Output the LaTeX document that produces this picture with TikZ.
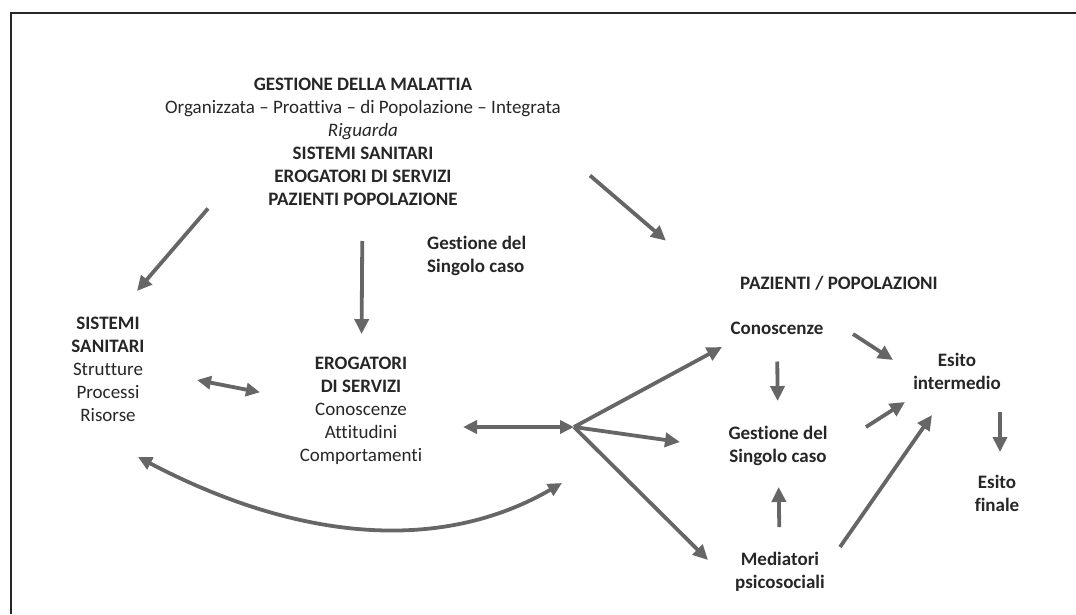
\documentclass[tikz,border=0pt]{standalone}
\usepackage{fontspec}
\setmainfont{Carlito}[Ligatures={TeX,NoCommon}]
\usepackage{xcolor}
\usetikzlibrary{arrows.meta, positioning}
\definecolor{arrgray}{HTML}{666666}
\definecolor{txtgray}{HTML}{262626}

\begin{document}
\begin{tikzpicture}[
    x=1pt, y=-1pt,
    lbl/.style={align=center, inner sep=0pt, text=txtgray, font=\fontsize{19}{23}\selectfont},
    hd/.style={lbl, font=\fontsize{19}{23}\selectfont\bfseries},
    arr/.style={-{Triangle[length=15pt, width=14pt]}, line width=3.8pt, draw=arrgray},
    dbl/.style={{Triangle[length=14pt, width=13pt]}-{Triangle[length=14pt, width=13pt]}, line width=3.8pt, draw=arrgray}
]
    \useasboundingbox (0,0) rectangle (1076,614);
    \draw[line width=2.5pt, draw=txtgray] (11,614) -- (11,13) -- (1076,13);

    \node[lbl] (title) at (363,142) {\textbf{GESTIONE DELLA MALATTIA}\\Organizzata – Proattiva – di Popolazione – Integrata\\\textit{Riguarda}\\\textbf{SISTEMI SANITARI}\\\textbf{EROGATORI DI SERVIZI}\\\textbf{PAZIENTI POPOLAZIONE}};
    \node[hd, align=left, anchor=west] (singolo) at (427,256) {Gestione del\\Singolo caso};
    \node[lbl] (sistemi) at (108,369) {\textbf{SISTEMI}\\\textbf{SANITARI}\\Strutture\\Processi\\Risorse};
    \node[lbl] (erog) at (361,411) {\textbf{EROGATORI}\\\textbf{DI SERVIZI}\\Conoscenze\\Attitudini\\Comportamenti};
    \node[hd] (pazienti) at (839,283) {PAZIENTI / POPOLAZIONI};
    \node[hd] (conosc) at (777,328) {Conoscenze};
    \node[hd] (gestR) at (778,446) {Gestione del\\Singolo caso};
    \node[hd] (medi) at (780,572) {Mediatori\\psicosociali};
    \node[hd] (esitoI) at (957,371) {Esito\\intermedio};
    \node[hd] (esitoF) at (997,493) {Esito\\finale};
    \coordinate (hub) at (574,427);

    \draw[arr] ([shift={(-155pt,-2.5pt)}]title.south) -- ([shift={(29pt,25.5pt)}]sistemi.north);
    \draw[arr] ([shift={(227pt,30.5pt)}]title.south) -- ([shift={(-173pt,35pt)}]pazienti.north);
    \draw[arr, shorten <=35pt, shorten >=23pt] (title) -- (erog);
    \draw[dbl] ([shift={(89pt,-11pt)}]sistemi.center) -- ([shift={(-101pt,18.7pt)}]erog.center);
    \draw[dbl] ([shift={(102pt,-16pt)}]erog.center) -- (hub);

    \draw[arr] (hub) -- ([shift={(-55pt,-19pt)}]conosc.center);
    \draw[arr] (hub) -- ([shift={(-98pt,4pt)}]gestR.center);
    \draw[arr] (hub) -- ([shift={(-72pt,12pt)}]medi.center);
    \draw[arr, shorten <=27pt, shorten >=25pt] (conosc) -- (gestR);
    \draw[arr, shorten <=25pt, shorten >=21pt] (medi) -- (gestR);
    \draw[arr] ([shift={(76pt,-6pt)}]conosc.center) -- ([shift={(-64pt,11pt)}]esitoI.center);
    \draw[arr] ([shift={(88pt,19pt)}]gestR.center) -- ([shift={(-52pt,-31pt)}]esitoI.center);
    \draw[arr] ([shift={(60pt,25pt)}]medi.center) -- ([shift={(-25pt,-44pt)}]esitoI.center);
    \draw[arr] ([shift={(43pt,-41pt)}]esitoI.center) -- ([shift={(3pt,41pt)}]esitoF.center);

    \draw[dbl] ([shift={(30pt,-88pt)}]sistemi.center) .. controls (302,543) and (443,552) .. ([shift={(-12pt,-56pt)}]hub);
\end{tikzpicture}
\end{document}
